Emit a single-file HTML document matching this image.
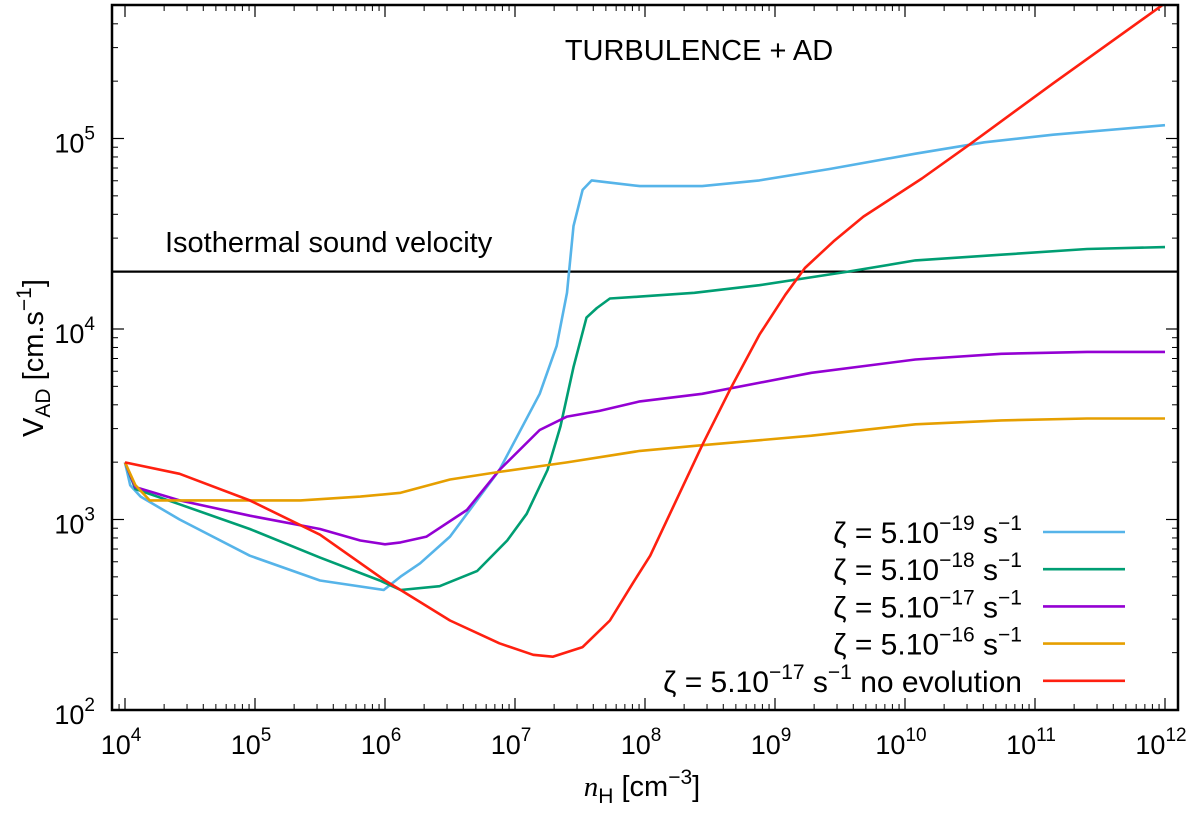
<!DOCTYPE html>
<html><head><meta charset="utf-8"><style>
body{margin:0;background:#fff}
svg text{font-family:"Liberation Sans",sans-serif;fill:#000}
</style></head><body>
<svg id="chart" width="1200" height="821" xmlns="http://www.w3.org/2000/svg">
<defs><clipPath id="plotclip"><rect x="112" y="5" width="1066" height="705"/></clipPath></defs>
<g id="grid"></g>
<g id="series" clip-path="url(#plotclip)"></g>
<rect x="112" y="5" width="1066" height="705" fill="none" stroke="#000" stroke-width="2.5"/>
<text x="699" y="60" font-size="29" text-anchor="middle">TURBULENCE + AD</text>
<text x="165" y="252" font-size="29">Isothermal sound velocity</text>
<text x="642" y="796" font-size="29" text-anchor="middle"><tspan font-style="italic" font-family="Liberation Serif">n</tspan><tspan font-size="21" dy="7">H</tspan><tspan dy="-7"> [cm</tspan><tspan font-size="21" dy="-12">−3</tspan><tspan dy="12">]</tspan></text>
<text transform="translate(43,358) rotate(-90)" font-size="29" text-anchor="middle">V<tspan font-size="21" dy="7">AD</tspan><tspan dy="-7"> [cm.s</tspan><tspan font-size="21" dy="-12">−1</tspan><tspan dy="12">]</tspan></text>
<g id="legend"></g>
</svg>
<script>
const seriesNames=['zeta-5e-19','zeta-5e-18','zeta-5e-17','zeta-5e-16','zeta-5e-17-no-evolution'];
const seriesColors=['#56b4e9','#009e73','#9400d3','#e69f00','#ff2010'];
const legendLabels=['−19','−18','−17','−16','−17'];
const soundVelocity=2e4;
const xTickExps=[4,5,6,7,8,9,10,11,12];
const yTickExps=[2,3,4,5];
// log10(nH), log10(V)
const blueX=[4.00,4.04,4.12,4.42,4.96,5.50,5.99,6.12,6.27,6.50,6.88,7.19,7.32,7.40,7.45,7.52,7.59,7.71,7.96,8.44,8.88,9.42,10.08,10.61,11.14,12.0];
const blueY=[3.30,3.18,3.12,3.00,2.81,2.68,2.63,2.70,2.77,2.91,3.26,3.66,3.91,4.19,4.54,4.73,4.78,4.77,4.75,4.75,4.78,4.84,4.92,4.98,5.02,5.07];
const greenX=[4.00,4.08,4.42,4.96,5.50,5.96,6.12,6.42,6.71,6.94,7.09,7.25,7.35,7.45,7.55,7.63,7.73,7.96,8.38,8.88,9.55,10.08,10.74,11.40,12];
const greenY=[3.30,3.16,3.08,2.95,2.80,2.68,2.63,2.65,2.73,2.89,3.03,3.26,3.49,3.80,4.06,4.11,4.16,4.17,4.19,4.23,4.30,4.36,4.39,4.42,4.43];
const purpleX=[4,4.08,4.42,4.96,5.5,5.81,6.0,6.12,6.32,6.63,6.88,7.19,7.40,7.65,7.96,8.44,9.28,10.08,10.74,11.40,12];
const purpleY=[3.30,3.17,3.10,3.02,2.95,2.89,2.87,2.88,2.91,3.05,3.26,3.47,3.54,3.57,3.62,3.66,3.77,3.84,3.87,3.88,3.88];
const orangeX=[4,4.08,4.19,4.58,5.35,5.81,6.12,6.50,6.88,7.40,7.96,8.44,9.28,10.08,10.74,11.40,12];
const orangeY=[3.30,3.18,3.10,3.10,3.10,3.12,3.14,3.21,3.25,3.30,3.36,3.39,3.44,3.50,3.52,3.53,3.53];
const redX=[4,4.42,4.96,5.5,6.0,6.12,6.50,6.88,7.14,7.29,7.52,7.73,7.91,8.04,8.44,8.66,8.88,9.08,9.23,9.45,9.68,10.13,10.48,11.14,11.98,12.1];
const redY=[3.30,3.24,3.10,2.92,2.68,2.63,2.47,2.35,2.29,2.28,2.33,2.47,2.67,2.81,3.39,3.69,3.97,4.18,4.32,4.46,4.59,4.79,4.96,5.29,5.70,5.76];
const allX=[blueX,greenX,purpleX,orangeX,redX], allY=[blueY,greenY,purpleY,orangeY,redY];

const X0=112,X1=1178,Y0=5,Y1=710;
function xs(l){return 125+(l-4)*130;}
function ys(l){return 710-(l-2)*190.5;}
const NS='http://www.w3.org/2000/svg';
function mk(t,a,p){const e=document.createElementNS(NS,t);for(const k in a)e.setAttribute(k,a[k]);p.appendChild(e);return e;}
const grid=document.getElementById('grid'), ser=document.getElementById('series'), leg=document.getElementById('legend');
xTickExps.forEach(e=>{
  const x=xs(e);
  let t=mk('line',{x1:x,x2:x,y1:Y1,y2:Y1-12,stroke:'#000','stroke-width':1.2},grid);
  
  t=mk('line',{x1:x,x2:x,y1:Y0,y2:Y0+12,stroke:'#000','stroke-width':1.2},grid);
  
  const tx=mk('text',{x:x-4,y:754,'font-size':27,'text-anchor':'middle'},grid);
  
  tx.innerHTML='10<tspan font-size="19" dy="-13">'+e+'</tspan>';
  for(let m=2;m<10;m++){const lx=e+Math.log10(m);const xx=xs(lx);if(xx>X1||e>=12)continue;
    let a=mk('line',{x1:xx,x2:xx,y1:Y1,y2:Y1-6,stroke:'#000','stroke-width':1},grid);
    
    a=mk('line',{x1:xx,x2:xx,y1:Y0,y2:Y0+6,stroke:'#000','stroke-width':1},grid);
    }
  if(e==4){for(let m=8;m<10;m++){const xx=xs(3+Math.log10(m));if(xx<X0)continue;
    const a=mk('line',{x1:xx,x2:xx,y1:Y1,y2:Y1-6,stroke:'#000','stroke-width':1},grid);
    }}
});
yTickExps.forEach(e=>{
  const y=ys(e);
  let t=mk('line',{x1:X0,x2:X0+12,y1:y,y2:y,stroke:'#000','stroke-width':1.2},grid);
  
  t=mk('line',{x1:X1,x2:X1-12,y1:y,y2:y,stroke:'#000','stroke-width':1.2},grid);
  
  const tx=mk('text',{x:95,y:y+14,'font-size':27,'text-anchor':'end'},grid);
  
  tx.innerHTML='10<tspan font-size="19" dy="-13">'+e+'</tspan>';
  for(let m=2;m<10;m++){const yy=ys(e+Math.log10(m));if(yy<Y0)continue;
    let a=mk('line',{x1:X0,x2:X0+6,y1:yy,y2:yy,stroke:'#000','stroke-width':1},grid);
    
    a=mk('line',{x1:X1,x2:X1-6,y1:yy,y2:yy,stroke:'#000','stroke-width':1},grid);
    }
});
const sv=mk('line',{x1:X0,x2:X1,y1:ys(Math.log10(soundVelocity)),y2:ys(Math.log10(soundVelocity)),stroke:'#000','stroke-width':2.2},ser);

for(let i=0;i<5;i++){
  const pts=allX[i].map((v,j)=>xs(v).toFixed(1)+','+ys(allY[i][j]).toFixed(1)).join(' ');
  const p=mk('polyline',{points:pts,fill:'none',stroke:seriesColors[i],'stroke-width':2.6,'stroke-linejoin':'round'},ser);
  
  
  const ly=532+i*37.2;
  const l=mk('line',{x1:1043,x2:1125,y1:ly,y2:ly,stroke:seriesColors[i],'stroke-width':2.6},leg);
  
  
  const t=mk('text',{x:1022,y:ly+11,'font-size':30,'text-anchor':'end'},leg);
  
  
  t.innerHTML='ζ = 5.10<tspan font-size="21" dy="-13">'+legendLabels[i]+'</tspan><tspan dy="13"> s</tspan><tspan font-size="21" dy="-13">−1</tspan><tspan dy="13">'+(i==4?' no evolution':'')+'</tspan>';
}
</script>
</body></html>
